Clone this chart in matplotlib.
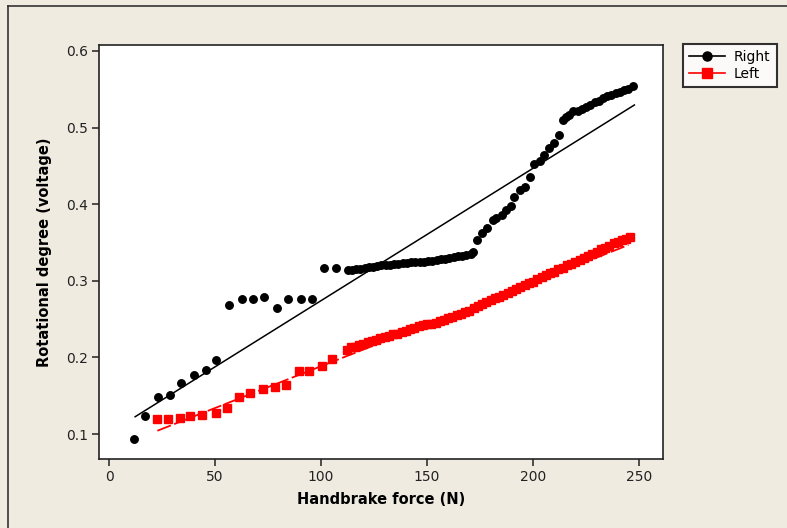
import matplotlib
matplotlib.use("Agg")
import matplotlib.pyplot as plt
from matplotlib.lines import Line2D
import numpy as np

# ---------------- data ----------------
right_x = [11.8, 17.0, 23.0, 28.8, 34.0, 40.0, 45.6, 50.6, 56.8, 62.6, 67.8, 73.3,
           79.2, 84.4, 90.4, 95.9, 101.4, 107.1, 112.7,
           114.5, 116.5, 118.5, 120.5, 122.5, 124.5, 126.5, 128.5, 130.5, 132.5,
           134.5, 136.5, 138.5, 140.5, 142.5, 144.5, 146.5, 148.5, 150.5, 152.5,
           154.5, 156.5, 158.5, 160.5, 162.5, 164.5, 166.5, 168.5, 170.5, 171.8,
           173.6, 175.8, 178.5, 181.0, 182.5, 185.2, 187.3, 189.6, 191.2, 193.9,
           196.2, 198.4, 200.6, 203.3, 205.2, 207.5, 209.9, 212.3, 214.2, 215.5,
           217.0, 219.0, 221.0, 223.0, 225.0, 227.0, 229.0, 231.0, 233.0, 235.0,
           237.0, 239.0, 241.0, 243.0, 245.0, 247.3]
right_y = [0.093, 0.123, 0.148, 0.151, 0.167, 0.177, 0.183, 0.197, 0.268, 0.276, 0.276, 0.279,
           0.264, 0.276, 0.276, 0.276, 0.317, 0.317, 0.314,
           0.314, 0.315, 0.316, 0.317, 0.318, 0.318, 0.319, 0.320, 0.320, 0.321,
           0.322, 0.322, 0.323, 0.323, 0.324, 0.324, 0.325, 0.325, 0.326, 0.326,
           0.327, 0.328, 0.329, 0.330, 0.331, 0.332, 0.333, 0.334, 0.335, 0.337,
           0.353, 0.362, 0.369, 0.379, 0.382, 0.386, 0.392, 0.398, 0.409, 0.419,
           0.422, 0.436, 0.452, 0.456, 0.464, 0.473, 0.480, 0.490, 0.510, 0.514,
           0.517, 0.521, 0.522, 0.524, 0.527, 0.530, 0.533, 0.535, 0.539, 0.541,
           0.543, 0.545, 0.547, 0.549, 0.551, 0.554]

left_x = [22.8, 28.0, 33.5, 38.2, 43.7, 50.5, 55.5, 61.5, 66.5, 72.8, 78.3, 83.5,
          89.6, 94.5, 100.3, 105.3, 112.1,
          114, 116, 118, 120, 122, 124, 126, 128, 130, 132, 134, 136, 138, 140,
          142, 144, 146, 148, 150, 152, 154, 156, 158, 160, 162, 164, 166, 168,
          170, 172, 174, 176, 178, 180, 182, 184, 186, 188, 190, 192, 194, 196,
          198, 200, 202, 204, 206, 208, 210, 212, 214, 216, 218, 220, 222, 224,
          226, 228, 230, 232, 234, 236, 238, 240, 242, 244, 245.5]
left_y = [0.119, 0.120, 0.121, 0.124, 0.125, 0.127, 0.134, 0.148, 0.154, 0.159, 0.161, 0.164,
          0.182, 0.182, 0.189, 0.198, 0.210,
          0.213, 0.214, 0.216, 0.218, 0.220, 0.221, 0.223, 0.225, 0.226, 0.228,
          0.230, 0.231, 0.233, 0.235, 0.237, 0.239, 0.241, 0.242, 0.243, 0.244,
          0.245, 0.247, 0.249, 0.251, 0.253, 0.255, 0.257, 0.259, 0.261, 0.264,
          0.267, 0.270, 0.272, 0.275, 0.277, 0.279, 0.282, 0.284, 0.287, 0.289,
          0.292, 0.294, 0.297, 0.299, 0.302, 0.305, 0.307, 0.310, 0.312, 0.315,
          0.317, 0.320, 0.322, 0.325, 0.327, 0.330, 0.333, 0.335, 0.338, 0.341,
          0.343, 0.346, 0.349, 0.351, 0.353, 0.355, 0.357]

# fitted regression lines (slope, intercept) and x range
right_fit = (0.001728, 0.1013)
right_fit_range = (12.3, 247.8)
left_fit = (0.001091, 0.0794)
left_fit_range = (22.8, 245.0)

x_ticks = [0, 50, 100, 150, 200, 250]
y_ticks = [0.1, 0.2, 0.3, 0.4, 0.5, 0.6]
x_label = "Handbrake force (N)"
y_label = "Rotational degree (voltage)"
series_names = ["Right", "Left"]

# ---------------- figure ----------------
BG = "#EFEBE1"
fig = plt.figure(figsize=(7.87, 5.28), dpi=100, facecolor=BG)
ax = fig.add_axes([99.3 / 787, 69 / 528, (663 - 99.3) / 787, (459 - 45) / 528])
ax.set_facecolor("white")

ax.plot(right_x, right_y, linestyle="none", marker="o", markersize=5.4,
        color="black", zorder=3)
ax.plot(left_x, left_y, linestyle="none", marker="s", markersize=5.8,
        color="#FF0000", zorder=3)

fx = np.array(right_fit_range)
ax.plot(fx, right_fit[0] * fx + right_fit[1], color="black", linewidth=1.1, zorder=2)
fx2 = np.array(left_fit_range)
ax.plot(fx2, left_fit[0] * fx2 + left_fit[1], color="#FF0000", linewidth=1.3,
        dashes=(8, 2), zorder=2)

ax.set_xlim(-4.6, 261.3)
ax.set_ylim(0.0674, 0.6078)
ax.set_xticks(x_ticks)
ax.set_yticks(y_ticks)
ax.set_xticklabels([str(v) for v in x_ticks])
ax.set_yticklabels([f"{v:.1f}" for v in y_ticks])
ax.tick_params(direction="out", length=5, width=1.1, colors="#222222",
               labelsize=10, pad=3)
for s in ax.spines.values():
    s.set_color("#222222")
    s.set_linewidth(1.2)

ax.set_xlabel(x_label, fontsize=10.5, fontweight="bold", labelpad=6)
ax.set_ylabel(y_label, fontsize=10.5, fontweight="bold", labelpad=10)

handles = [
    Line2D([], [], color="black", marker="o", markersize=6.5, linewidth=1.2),
    Line2D([], [], color="#FF0000", marker="s", markersize=6.5, linewidth=1.2),
]
leg = fig.legend(handles, series_names, loc="upper left",
                 bbox_to_anchor=(683 / 787, 1 - 44 / 528),
                 fontsize=10, frameon=True, fancybox=False,
                 handlelength=2.6, handletextpad=0.6, borderpad=0.45,
                 labelspacing=0.2, borderaxespad=0)
leg.get_frame().set_edgecolor("black")
leg.get_frame().set_linewidth(1.5)
leg.get_frame().set_facecolor("white")

# outer window border lines (top and left)
fig.add_artist(Line2D([8 / 787, 1], [1 - 6 / 528, 1 - 6 / 528], color="#333333",
                      linewidth=1.2, transform=fig.transFigure))
fig.add_artist(Line2D([8 / 787, 8 / 787], [0, 1 - 6 / 528], color="#333333",
                      linewidth=1.2, transform=fig.transFigure))

fig.savefig("out.png", dpi=100, facecolor=BG)
